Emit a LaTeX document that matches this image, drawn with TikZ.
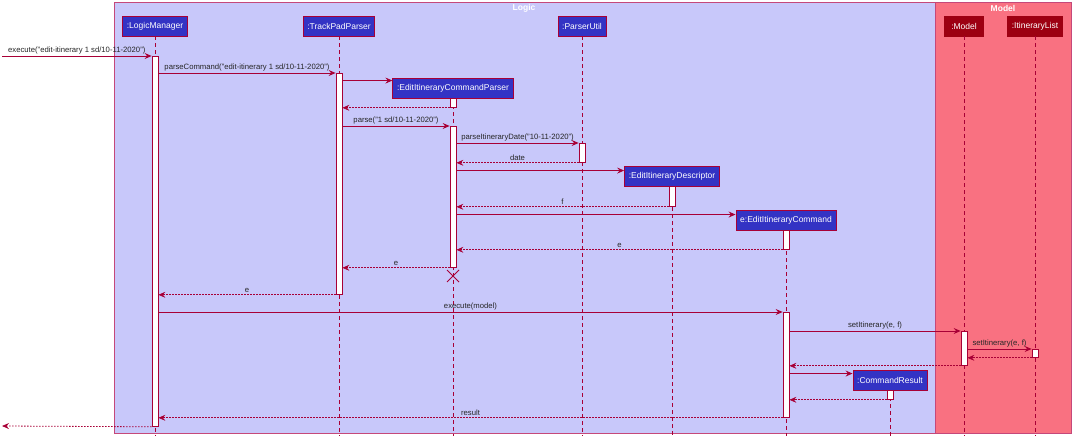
\documentclass[tikz,border=0pt]{standalone}
\usepackage{fontspec}
\setmainfont{Liberation Sans}
\usetikzlibrary{arrows.meta}
\definecolor{logicblue}{HTML}{3333C4}
\definecolor{logiclight}{HTML}{C8C8FA}
\definecolor{modelred}{HTML}{9D0012}
\definecolor{modellight}{HTML}{F97181}
\definecolor{umlred}{HTML}{A80036}
\definecolor{boxborder}{HTML}{C5487A}
\newcommand{\lifeEnd}{436}
\newcommand{\msgFont}{\fontsize{7.7}{8}\selectfont}
\newcommand{\partFont}{\fontsize{8.5}{9}\selectfont}

\begin{document}
\begin{tikzpicture}[x=1pt, y=-1pt]
  \tikzset{
    participant/.style={draw=umlred, fill=logicblue, text=white, line width=0.9pt,
      minimum height=20pt, inner xsep=4.2pt, inner ysep=0pt, font=\partFont},
    modelpart/.style={participant, fill=modelred, draw=modelred},
    lifeline/.style={umlred, line width=0.7pt, dash pattern=on 4pt off 3pt},
    activation/.style={draw=umlred, fill=white, line width=0.8pt, minimum width=6pt,
      inner sep=0pt, anchor=north},
    call/.style={umlred, line width=0.8pt, -{Stealth[length=7pt, width=6pt, inset=2.5pt]}},
    reply/.style={call, dash pattern=on 1.5pt off 1.5pt},
    msg/.style={midway, above, inner sep=1.5pt, text=black!85, font=\msgFont},
    frametitle/.style={text=white, font=\partFont\bfseries}
  }
  \useasboundingbox (0,0) rectangle (1077,443);
  % frames
  \draw[fill=logiclight, draw=boxborder, line width=0.9pt] (114,2) rectangle (935,433);
  \draw[fill=modellight, draw=boxborder, line width=0.9pt] (935,2) rectangle (1071,433);
  \node[frametitle] (logicTitle) at (524,8) {Logic};
  \node[frametitle] (modelTitle) at (1003,8) {Model};
  % participants
  \node[participant] (lm) at (155,26) {:LogicManager};
  \node[participant] (tp) at (339,26) {:TrackPadParser};
  \node[participant] (pu) at (582,26) {:ParserUtil};
  \node[modelpart, minimum width=39pt] (mo) at (964,26) {:Model};
  \node[modelpart] (il) at (1035,26) {:ItineraryList};
  \node[participant] (eicp) at (453,88) {:EditItineraryCommandParser};
  \node[participant] (eid) at (672,176) {:EditItineraryDescriptor};
  \node[participant] (eic) at (786,220) {e:EditItineraryCommand};
  \node[participant] (cr) at (890,380) {:CommandResult};
  % lifelines
  \foreach \p in {lm,tp,pu,mo,il,eicp,eid,eic,cr}
    \draw[lifeline] (\p) -- (\p |- 0,\lifeEnd);
  % activations
  \node[activation, minimum height=370pt] (lmA) at (155,56) {};
  \node[activation, minimum height=221pt] (tpA) at (339,73) {};
  \node[activation, minimum height=9pt] (eicpA1) at (453,98) {};
  \node[activation, minimum height=141pt] (eicpA2) at (453,126) {};
  \node[activation, minimum height=19pt] (puA) at (582,143) {};
  \node[activation, minimum height=20pt] (eidA) at (672,186) {};
  \node[activation, minimum height=19pt] (eicA1) at (786,230) {};
  \node[activation, minimum height=105pt] (eicA2) at (786,312) {};
  \node[activation, minimum height=34pt] (moA) at (964,331) {};
  \node[activation, minimum height=8pt] (ilA) at (1035,349) {};
  \node[activation, minimum height=9pt] (crA) at (890,390) {};
  \coordinate (inStart) at (2,56);
  \coordinate (outEnd) at (2,426);
  \coordinate (eicpX) at (453,276);
  \coordinate (eicpIn) at ([yshift=-3pt]eicp.north west);
  \coordinate (eidIn) at ([yshift=-5pt]eid.north west);
  \coordinate (eicIn) at ([yshift=-5pt]eic.north west);
  \coordinate (crIn) at ([yshift=-4pt]cr.north west);
  % messages
  \draw[call] (inStart) -- (lmA.north west) node[msg] {execute("edit-itinerary 1 sd/10-11-2020")};
  \draw[call] (lmA.east |- tpA.north) -- (tpA.north west) node[msg] {parseCommand("edit-itinerary 1 sd/10-11-2020")};
  \draw[call] (tpA.east |- eicpIn) -- (eicpIn);
  \draw[reply] (eicpA1.south west) -- (tpA.east |- eicpA1.south);
  \draw[call] (tpA.east |- eicpA2.north) -- (eicpA2.north west) node[msg] {parse("1 sd/10-11-2020")};
  \draw[call] (eicpA2.east |- puA.north) -- (puA.north west) node[msg] {parseItineraryDate("10-11-2020")};
  \draw[reply] (puA.south west) -- (eicpA2.east |- puA.south) node[msg] {date};
  \draw[call] (eicpA2.east |- eidIn) -- (eidIn);
  \draw[reply] (eidA.south west) -- (eicpA2.east |- eidA.south) node[msg] {f};
  \draw[call] (eicpA2.east |- eicIn) -- (eicIn);
  \draw[reply] (eicA1.south west) -- (eicpA2.east |- eicA1.south) node[msg] {e};
  \draw[reply] (eicpA2.south west) -- (tpA.east |- eicpA2.south) node[msg] {e};
  \draw[umlred, line width=1pt] ([shift={(-6,-6)}]eicpX) -- ([shift={(6,6)}]eicpX)
    ([shift={(-6,6)}]eicpX) -- ([shift={(6,-6)}]eicpX);
  \draw[reply] (tpA.south west) -- (lmA.east |- tpA.south) node[msg] {e};
  \draw[call] (lmA.east |- eicA2.north) -- (eicA2.north west) node[msg] {execute(model)};
  \draw[call] (eicA2.east |- moA.north) -- (moA.north west) node[msg] {setItinerary(e, f)};
  \draw[call] (moA.east |- ilA.north) -- (ilA.north west) node[msg] {setItinerary(e, f)};
  \draw[reply] (ilA.south west) -- (moA.east |- ilA.south);
  \draw[reply] (moA.south west) -- (eicA2.east |- moA.south);
  \draw[call] (eicA2.east |- crIn) -- (crIn);
  \draw[reply] (crA.south west) -- (eicA2.east |- crA.south);
  \draw[reply] (eicA2.south west) -- (lmA.east |- eicA2.south) node[msg] {result};
  \draw[reply] (lmA.south west) -- (outEnd);
\end{tikzpicture}
\end{document}
